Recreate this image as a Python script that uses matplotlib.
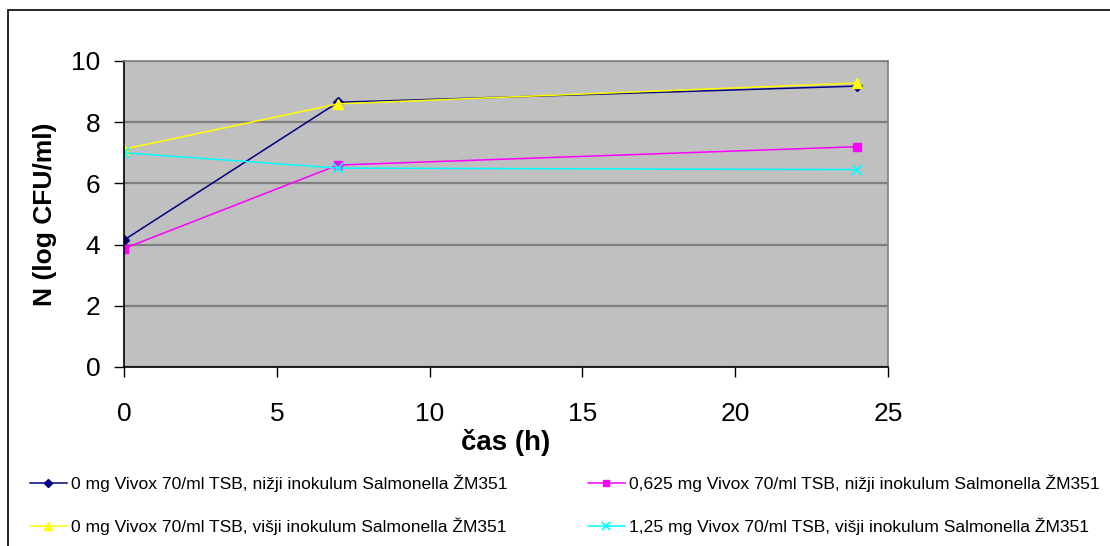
import matplotlib.pyplot as plt
from matplotlib.patches import Rectangle

# time points (h)
cas = [0, 7, 24]

# log CFU/ml for each treatment
n_0mg_nizji = [4.15, 8.65, 9.18]
n_0625mg_nizji = [3.87, 6.6, 7.2]
n_0mg_visji = [7.12, 8.6, 9.28]
n_125mg_visji = [7.0, 6.5, 6.45]

labels = [
    "0 mg Vivox 70/ml TSB, nižji inokulum Salmonella ŽM351",
    "0,625 mg Vivox 70/ml TSB, nižji inokulum Salmonella ŽM351",
    "0 mg Vivox 70/ml TSB, višji inokulum Salmonella ŽM351",
    "1,25 mg Vivox 70/ml TSB, višji inokulum Salmonella ŽM351",
]

plt.rcParams["font.family"] = ["Liberation Sans", "DejaVu Sans"]

W, H = 1110, 546
fig = plt.figure(figsize=(W / 100, H / 100), dpi=100)
ax = fig.add_axes([124 / W, 1 - 367 / H, 764 / W, 306 / H])
ax.set_facecolor("#c0c0c0")

l1, = ax.plot(cas, n_0mg_nizji, color="#000080", marker="D", markersize=5.5, lw=1.1)
l2, = ax.plot(cas, n_0625mg_nizji, color="#ff00ff", marker="s", markersize=6, lw=1.1)
l3, = ax.plot(cas, n_0mg_visji, color="#ffff00", marker="^", markersize=7.5, lw=1.1)
l4, = ax.plot(cas, n_125mg_visji, color="#00ffff", marker="x", markersize=7, mew=1.3, lw=1.1)

ax.set_xlim(0, 25)
ax.set_ylim(0, 10)
ax.set_xticks(range(0, 26, 5))
ax.set_yticks(range(0, 11, 2))
ax.yaxis.grid(True, color="#808080", lw=1.6)
ax.set_axisbelow(True)

for s in ["top", "right"]:
    ax.spines[s].set_color("#808080")
    ax.spines[s].set_linewidth(1.2)
for s in ["left", "bottom"]:
    ax.spines[s].set_color("black")
    ax.spines[s].set_linewidth(1.2)

ax.tick_params(axis="y", direction="out", length=7, width=1, pad=10, labelsize=19)
ax.tick_params(axis="x", direction="out", length=7, width=1, pad=18, labelsize=19)

ax.set_xlabel("čas (h)", fontsize=20, fontweight="bold", labelpad=2)
ax.set_ylabel("N (log CFU/ml)", fontsize=19, fontweight="bold", labelpad=10)

# legend split into two columns placed under the plot
leg_kw = dict(
    frameon=False, fontsize=12.6, handlelength=2.1, handletextpad=0.25,
    labelspacing=1.45, borderpad=0, borderaxespad=0, markerscale=0.75,
    loc="center left",
)
fig.legend([l1, l3], [labels[0], labels[2]],
           bbox_to_anchor=(30 / W, 1 - 505 / H), **leg_kw)
fig.legend([l2, l4], [labels[1], labels[3]],
           bbox_to_anchor=(588 / W, 1 - 505 / H), **leg_kw)

# chart area frame
fig.patches.append(Rectangle((8 / W, -0.1), 1.2, 1.1 - 10 / H, transform=fig.transFigure,
                             fill=False, edgecolor="black", lw=1.2))

fig.savefig("out.png", dpi=100)
